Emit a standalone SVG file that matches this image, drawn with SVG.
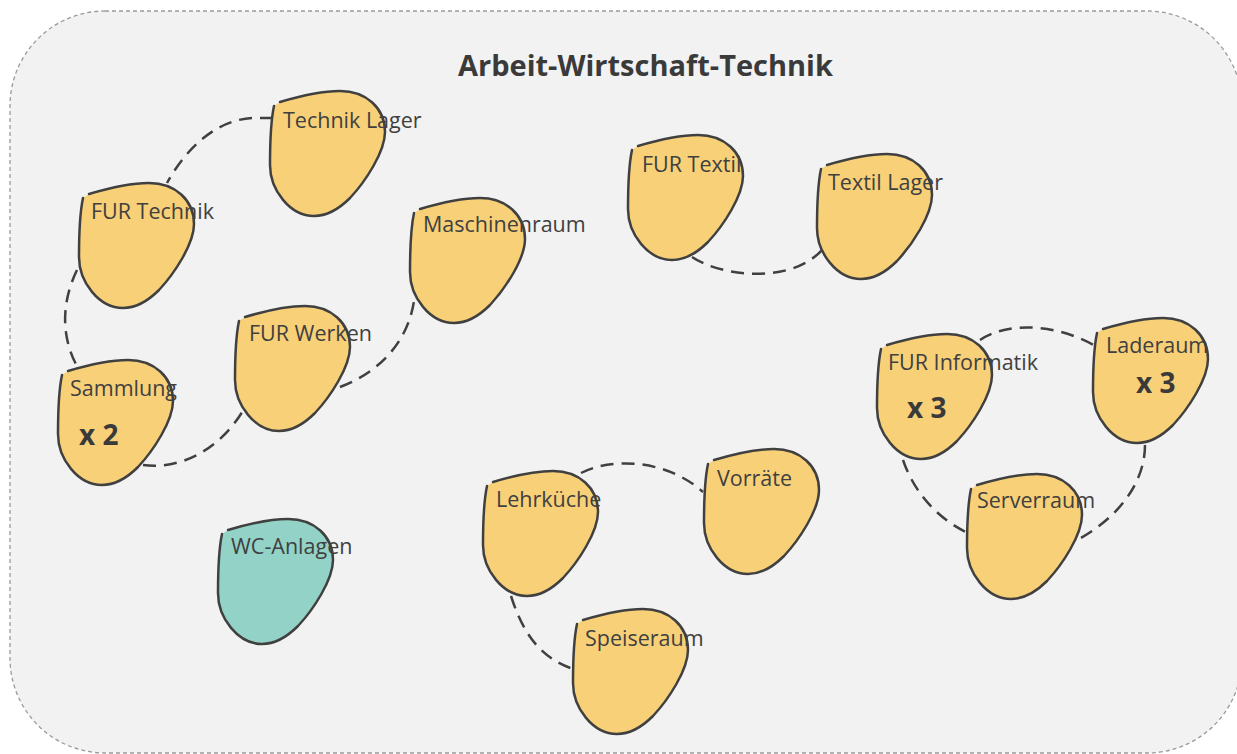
<svg xmlns="http://www.w3.org/2000/svg" xmlns:xlink="http://www.w3.org/1999/xlink" width="1237" height="754" viewBox="0 0 1237 754">
  <style>
    .frame { fill: #f2f2f2; stroke: #9a9a9a; stroke-width: 1.3; stroke-dasharray: 4 3; }
    .blob { fill: #f8d078; stroke: #404040; stroke-width: 2.5; stroke-linecap: round; }
    .teal { fill: #93d3c7; }
    .conn { fill: none; stroke: #404040; stroke-width: 2.5; stroke-dasharray: 13 8; }
    .label { font-family: "Open Sans", "Noto Sans", "Liberation Sans", sans-serif; font-size: 21.5px; fill: #404040; }
    .count { font-family: "Open Sans", "Noto Sans", "Liberation Sans", sans-serif; font-size: 28px; font-weight: bold; fill: #3a3a3a; }
    .title { font-family: "Open Sans", "Noto Sans", "Liberation Sans", sans-serif; font-size: 29px; font-weight: bold; fill: #3a3a3a; }
  </style>
  <defs>
    <path id="blob" d="M 10,12 C 30,6 50,1 70,1 C 96,1 115,18 115,42 C 115,62 95,92 80,108 C 68,120 56,126 44,126 C 20,126 0,100 0,75 C 0,50 1,30 4,16"/>
  </defs>
  <rect width="1237" height="754" fill="#ffffff"/>
  <rect class="frame" x="10" y="11" width="1232" height="742" rx="95" ry="95"/>
  <text class="title" x="458" y="76">Arbeit-Wirtschaft-Technik</text>

  <g id="connectors">
    <path class="conn" d="M 273,118 L 252,118 C 215,120 185,150 167,183"/>
    <path class="conn" d="M 77,270 C 60,305 62,340 78,368"/>
    <path class="conn" d="M 143,465 C 180,470 220,450 244,409"/>
    <path class="conn" d="M 340,387 C 385,370 412,335 415,292"/>
    <path class="conn" d="M 692,257 C 720,276 790,285 822,250"/>
    <path class="conn" d="M 581,473 C 610,458 665,458 703,492"/>
    <path class="conn" d="M 511,596 C 525,640 545,660 576,670"/>
    <path class="conn" d="M 980,340 C 1010,320 1060,325 1097,347"/>
    <path class="conn" d="M 903,460 C 915,495 940,520 968,533"/>
    <path class="conn" d="M 1145,445 C 1145,485 1115,520 1077,540"/>
  </g>

  <g id="technik-lager">
    <use href="#blob" xlink:href="#blob" class="blob" transform="translate(270,90)"/>
    <text class="label" x="283" y="128">Technik Lager</text>
  </g>
  <g id="fur-technik">
    <use href="#blob" xlink:href="#blob" class="blob" transform="translate(79,182)"/>
    <text class="label" x="91" y="219">FUR Technik</text>
  </g>
  <g id="maschinenraum">
    <use href="#blob" xlink:href="#blob" class="blob" transform="translate(410,197)"/>
    <text class="label" x="423" y="232">Maschinenraum</text>
  </g>
  <g id="fur-werken">
    <use href="#blob" xlink:href="#blob" class="blob" transform="translate(235,305)"/>
    <text class="label" x="249" y="341">FUR Werken</text>
  </g>
  <g id="sammlung">
    <use href="#blob" xlink:href="#blob" class="blob" transform="translate(58,359)"/>
    <text class="label" x="70" y="396">Sammlung</text>
    <text class="count" x="79" y="445">x 2</text>
  </g>
  <g id="wc-anlagen">
    <use href="#blob" xlink:href="#blob" class="blob teal" transform="translate(218,518)"/>
    <text class="label" x="231" y="554">WC-Anlagen</text>
  </g>
  <g id="fur-textil">
    <use href="#blob" xlink:href="#blob" class="blob" transform="translate(628,134)"/>
    <text class="label" x="642" y="172">FUR Textil</text>
  </g>
  <g id="textil-lager">
    <use href="#blob" xlink:href="#blob" class="blob" transform="translate(817,153)"/>
    <text class="label" x="828" y="190">Textil Lager</text>
  </g>
  <g id="lehrkueche">
    <use href="#blob" xlink:href="#blob" class="blob" transform="translate(483,470)"/>
    <text class="label" x="496" y="507">Lehrküche</text>
  </g>
  <g id="vorraete">
    <use href="#blob" xlink:href="#blob" class="blob" transform="translate(704,448)"/>
    <text class="label" x="717" y="486">Vorräte</text>
  </g>
  <g id="speiseraum">
    <use href="#blob" xlink:href="#blob" class="blob" transform="translate(573,608)"/>
    <text class="label" x="585" y="646">Speiseraum</text>
  </g>
  <g id="fur-informatik">
    <use href="#blob" xlink:href="#blob" class="blob" transform="translate(877,333)"/>
    <text class="label" x="888" y="370">FUR Informatik</text>
    <text class="count" x="907" y="418">x 3</text>
  </g>
  <g id="laderaum">
    <use href="#blob" xlink:href="#blob" class="blob" transform="translate(1093,317)"/>
    <text class="label" x="1106" y="353">Laderaum</text>
    <text class="count" x="1136" y="393">x 3</text>
  </g>
  <g id="serverraum">
    <use href="#blob" xlink:href="#blob" class="blob" transform="translate(967,473)"/>
    <text class="label" x="977" y="508">Serverraum</text>
  </g>
</svg>
